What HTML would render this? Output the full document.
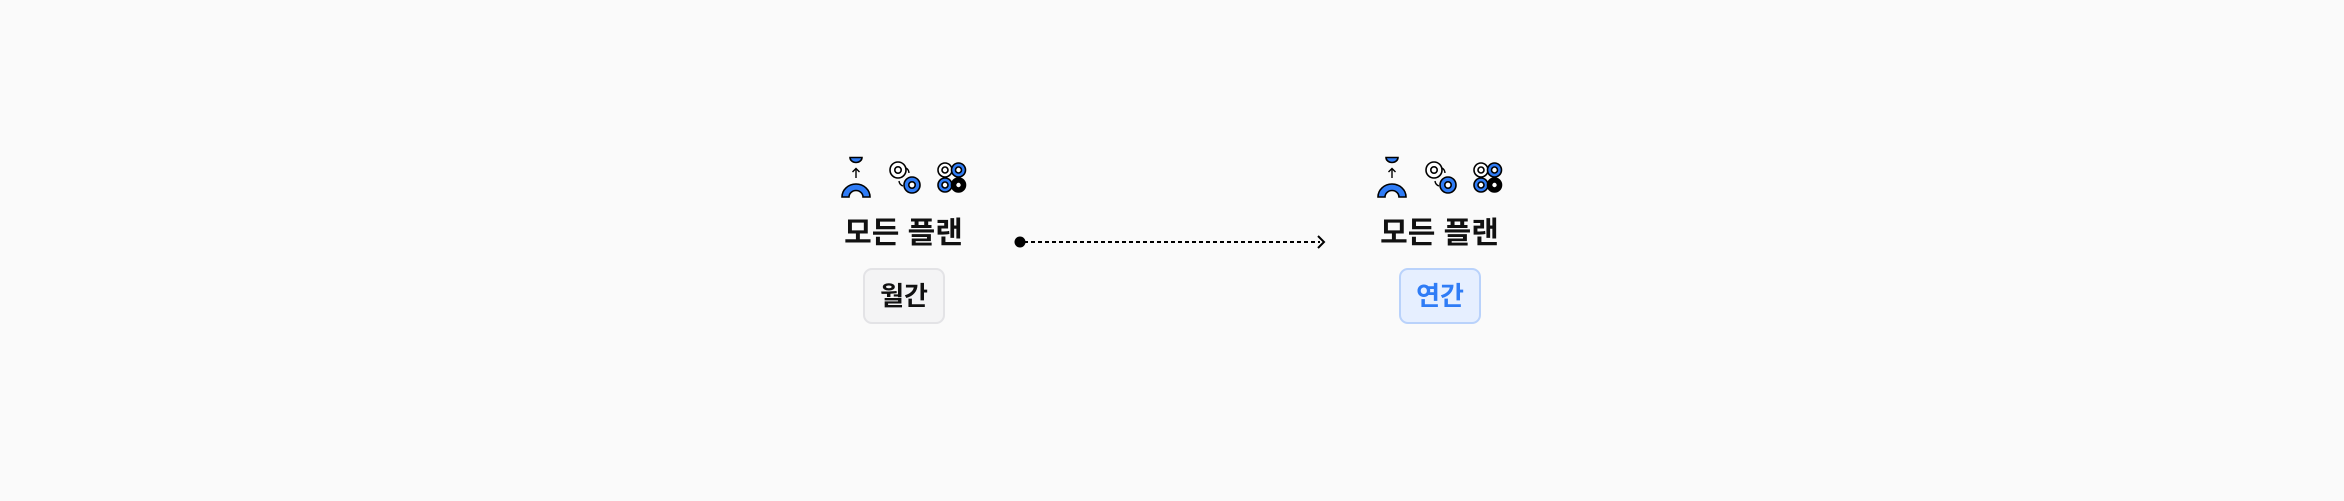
<!DOCTYPE html>
<html><head><meta charset="utf-8"><style>
html,body{margin:0;padding:0;background:#fafafa;}
body{width:2344px;height:496px;overflow:hidden;}
svg text{font-family:"Liberation Sans","Noto Sans CJK KR",sans-serif;font-weight:700;}
</style></head><body>
<svg width="2344" height="496" viewBox="0 0 2344 496" xmlns="http://www.w3.org/2000/svg">
<defs>
<g id="icons" stroke="#000" stroke-width="1.6">
  <path d="M850 157.5 H862 A6 5 0 0 1 850 157.5 Z" fill="#2f7cf6"/>
  <line x1="856" y1="169" x2="856" y2="178" stroke-width="1.4"/>
  <path d="M852.5 172 L856 168.5 L859.5 172" fill="none" stroke-width="1.4"/>
  <path d="M842 197 A14 13 0 0 1 870 197 H863 A7 6.5 0 0 0 849 197 Z" fill="#2f7cf6"/>
  <circle cx="898" cy="170" r="8" fill="#fff"/>
  <circle cx="898" cy="170" r="3.2" fill="#fff"/>
  <circle cx="912" cy="185" r="8" fill="#2f7cf6"/>
  <circle cx="912" cy="185" r="3.2" fill="#fff"/>
  <path d="M906 168 A6 6 0 0 1 909 173" fill="none" stroke-width="1.4"/>
  <path d="M899 181 A6 6 0 0 0 903 186" fill="none" stroke-width="1.4"/>
  <circle cx="945" cy="170" r="7" fill="#fff"/>
  <circle cx="945" cy="170" r="3" fill="#fff"/>
  <circle cx="958.5" cy="170" r="7" fill="#2f7cf6"/>
  <circle cx="958.5" cy="170" r="3" fill="#fff"/>
  <circle cx="945" cy="185" r="7" fill="#2f7cf6"/>
  <circle cx="945" cy="185" r="3" fill="#fff"/>
  <circle cx="958.5" cy="185" r="7" fill="#000"/>
  <circle cx="958.5" cy="185" r="3" fill="#fff"/>
</g>
</defs>
<use href="#icons"/>
<text x="903.5" y="243" font-size="30" text-anchor="middle" fill="#111">모든 플랜</text>
<rect x="864" y="269" width="80" height="54" rx="8" fill="#f4f4f5" stroke="#e3e3e6" stroke-width="2"/>
<text x="904" y="305" font-size="26" text-anchor="middle" fill="#111">월간</text>

<use href="#icons" transform="translate(536,0)"/>
<text x="1439.5" y="243" font-size="30" text-anchor="middle" fill="#111">모든 플랜</text>
<rect x="1400" y="269" width="80" height="54" rx="8" fill="#e6efff" stroke="#b9d2fb" stroke-width="2"/>
<text x="1440" y="305" font-size="26" text-anchor="middle" fill="#2f7cf6">연간</text>

<circle cx="1020" cy="242" r="5.5" fill="#000"/>
<line x1="1024" y1="242" x2="1320" y2="242" stroke="#000" stroke-width="2" stroke-dasharray="4 3"/>
<path d="M1318 236 L1324 242 L1318 248" fill="none" stroke="#000" stroke-width="2"/>
</svg>
</body></html>
